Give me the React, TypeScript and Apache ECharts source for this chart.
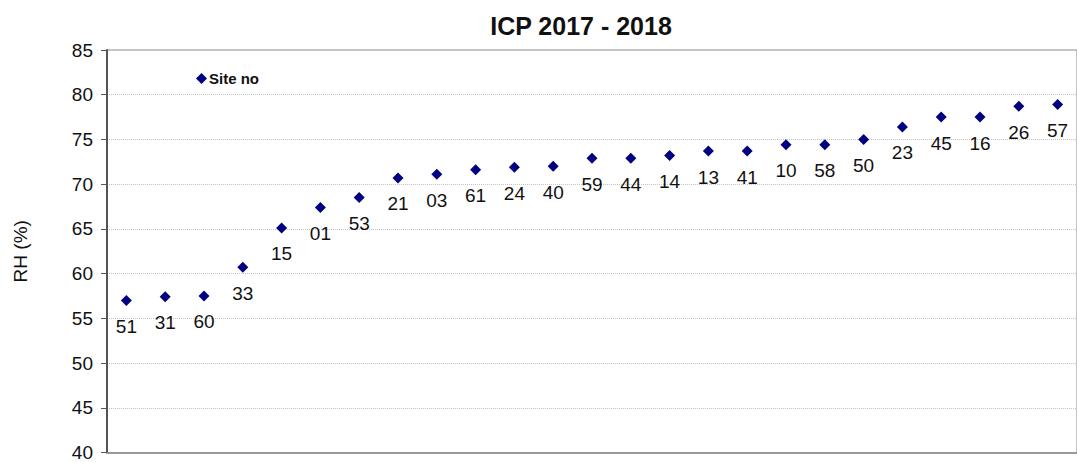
import React, { useEffect, useRef } from "react";
import * as echarts from "echarts";

const siteNames = ["51", "31", "60", "33", "15", "01", "53", "21", "03", "61", "24", "40", "59", "44", "14", "13", "41", "10", "58", "50", "23", "45", "16", "26", "57"];
const rhValues = [57.0, 57.4, 57.5, 60.7, 65.1, 67.4, 68.5, 70.7, 71.1, 71.6, 71.9, 72.0, 72.9, 72.9, 73.2, 73.7, 73.7, 74.4, 74.4, 75.0, 76.4, 77.5, 77.5, 78.7, 78.9];
const yTicks = { min: 40, max: 85, interval: 5 };

const FONT = "'Liberation Sans', Arial, sans-serif";

export default function App() {
  const ref = useRef<HTMLDivElement>(null);
  useEffect(() => {
    if (!ref.current) return;
    const chart = echarts.init(ref.current, null, { renderer: "svg" });
    chart.setOption({
      animation: false,
      backgroundColor: "#ffffff",
      title: {
        text: "ICP 2017 - 2018",
        left: 576,
        top: 8,
        textAlign: "center",
        textStyle: { fontFamily: FONT, fontSize: 25, fontWeight: "bold", color: "#111" },
      },
      legend: {
        data: [{ name: "Site no", icon: "diamond" }],
        left: 191,
        top: 66,
        itemWidth: 11,
        itemHeight: 11,
        itemGap: 4,
        textStyle: { fontFamily: FONT, fontSize: 15, fontWeight: "bold", color: "#111", padding: [0, 0, 0, -3] },
      },
      grid: {
        left: 107,
        top: 50,
        bottom: 6,
        right: -8,
        show: true,
        borderColor: "#8a8a8a",
        borderWidth: 1,
      },
      xAxis: {
        type: "category",
        data: siteNames,
        boundaryGap: true,
        axisLine: { show: true, lineStyle: { color: "#999", width: 2 } },
        axisTick: { show: false },
        axisLabel: { show: false },
        splitLine: { show: false },
      },
      yAxis: {
        type: "value",
        min: yTicks.min,
        max: yTicks.max,
        interval: yTicks.interval,
        name: "RH (%)",
        nameLocation: "middle",
        nameGap: 77,
        nameTextStyle: { fontFamily: FONT, fontSize: 19, color: "#111" },
        axisLine: { show: true, lineStyle: { color: "#555", width: 2 } },
        axisTick: { show: true, inside: false, length: 6, lineStyle: { color: "#555", width: 1 } },
        axisLabel: { fontFamily: FONT, fontSize: 19, color: "#111", margin: 14 },
        splitLine: { show: true, lineStyle: { color: "#c4c4c4", type: [1, 1], width: 1 } },
      },
      series: [
        {
          name: "Site no",
          type: "scatter",
          data: rhValues,
          symbol: "diamond",
          symbolSize: 11,
          itemStyle: { color: "#000080", opacity: 1 },
          label: {
            show: true,
            position: "bottom",
            distance: 11,
            formatter: (p: any) => siteNames[p.dataIndex],
            fontFamily: FONT,
            fontSize: 19,
            color: "#111",
            opacity: 1,
          },
        },
      ],
    });
    return () => chart.dispose();
  }, []);
  return (
    <div
      ref={ref}
      style={{ position: "fixed", left: 0, top: 0, width: 1077, height: 462 }}
    />
  );
}
